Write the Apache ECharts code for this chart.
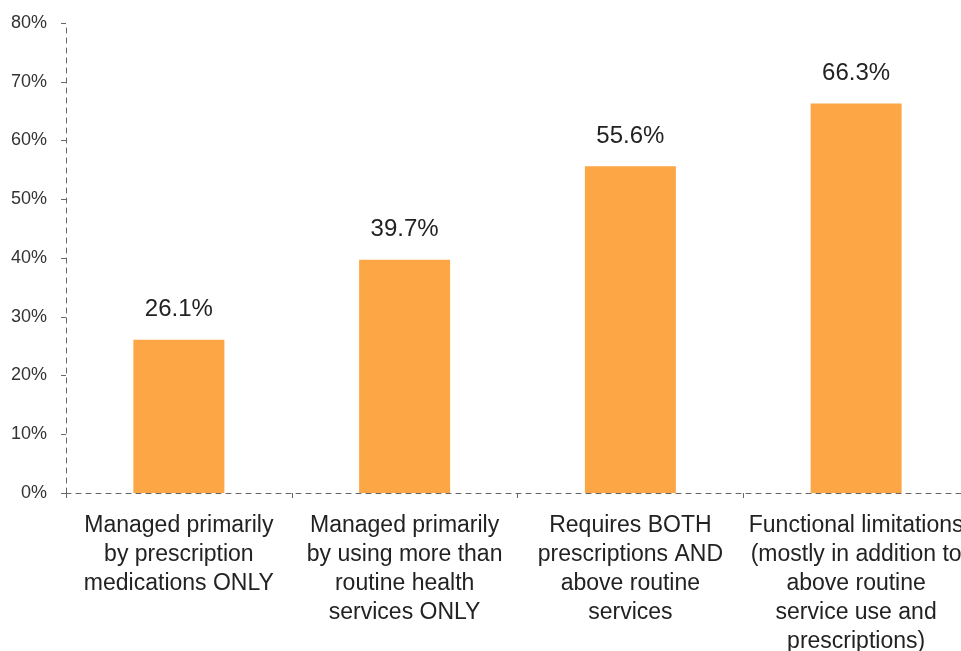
<!DOCTYPE html>
<html>
<head>
<meta charset="utf-8">
<script src="https://cdn.jsdelivr.net/npm/echarts@6/dist/echarts.min.js"></script>
<style>
  html, body { margin: 0; padding: 0; background: #fff; }
  #myChart { width: 961px; height: 651px; }
</style>
</head>
<body>
<div id="myChart"></div>
<script>
// categories and values
var categories = [
  "Managed primarily\nby prescription\nmedications ONLY",
  "Managed primarily\nby using more than\nroutine health\nservices ONLY",
  "Requires BOTH\nprescriptions AND\nabove routine\nservices",
  "Functional limitations\n(mostly in addition to\nabove routine\nservice use and\nprescriptions)"
];
var values = [26.1, 39.7, 55.6, 66.3];
var yTicks = [0, 10, 20, 30, 40, 50, 60, 70, 80];

var font = "'Liberation Sans', Arial, Helvetica, sans-serif";
var axisColor = "#666";

var myChart = echarts.init(document.getElementById("myChart"));
var option = {
  animation: false,
  grid: { left: 66, width: 903, top: 23, height: 470, outerBoundsMode: "none", containLabel: false },
  xAxis: {
    type: "category",
    data: categories,
    axisLine: { lineStyle: { color: axisColor, type: [5, 5], width: 1 } },
    axisTick: { show: true, length: 5, lineStyle: { color: axisColor } },
    axisLabel: {
      interval: 0,
      margin: 18,
      color: "#222",
      fontFamily: font,
      fontSize: 23,
      lineHeight: 29
    }
  },
  yAxis: {
    type: "value",
    min: yTicks[0],
    max: yTicks[yTicks.length - 1],
    interval: 10,
    splitLine: { show: false },
    axisLine: { show: true, lineStyle: { color: axisColor, type: [5, 5], width: 1 } },
    axisTick: { show: true, length: 5, lineStyle: { color: axisColor } },
    axisLabel: {
      margin: 19,
      color: "#333",
      fontFamily: font,
      fontSize: 18,
      formatter: "{value}%"
    }
  },
  series: [
    {
      type: "bar",
      data: values,
      barWidth: 91,
      itemStyle: { color: "#FCA646" },
      label: {
        show: true,
        position: "top",
        distance: 18,
        color: "#222",
        fontFamily: font,
        fontSize: 24,
        formatter: function (p) { return p.value.toFixed(1) + "%"; }
      }
    }
  ]
};
myChart.setOption(option);
</script>
</body>
</html>
